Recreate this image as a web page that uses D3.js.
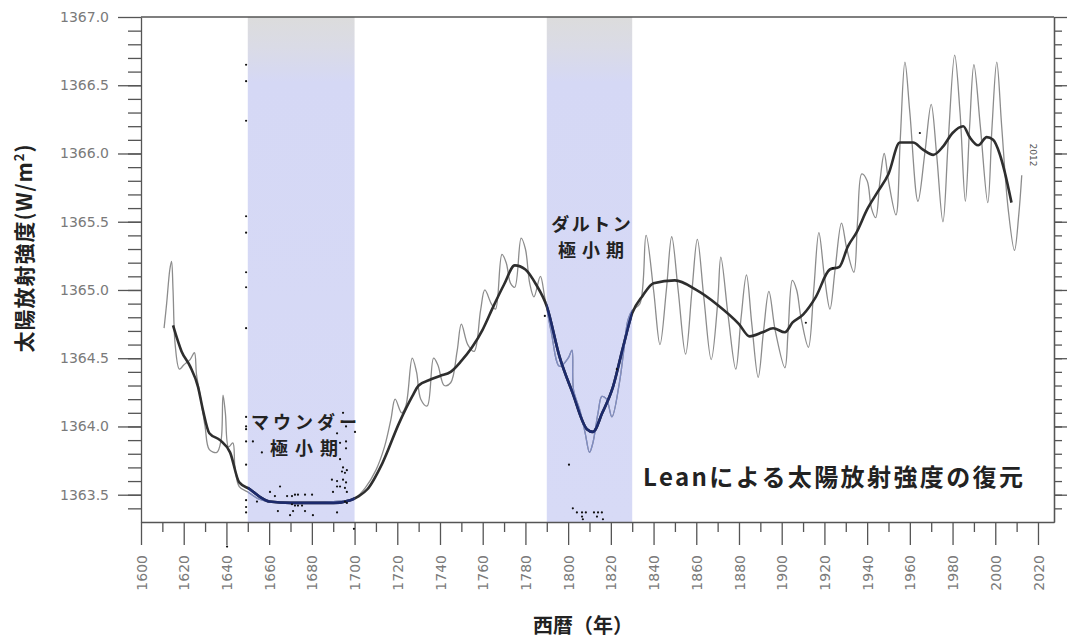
<!DOCTYPE html>
<html lang="ja">
<head>
<meta charset="utf-8">
<title>Leanによる太陽放射強度の復元</title>
<script src="https://cdn.jsdelivr.net/npm/d3@7"></script>
<style>
  body { margin: 0; background: #fff; }
  svg text { font-family: "DejaVu Sans", sans-serif; }
  .jp { font-family: "Noto Sans CJK JP", sans-serif; font-weight: 700; fill: #222; }
  .axis path, .axis line { stroke: #555; stroke-width: 1.3; }
  .axis text { fill: #7a7a7a; font-size: 14px; }
</style>
</head>
<body>
<svg id="chart" width="1071" height="640"></svg>
<script>
// ---- data (year, W/m2) ----
const minima = [
  { name: ["マウンダー", "極小期"], from: 1650, to: 1700 },
  { name: ["ダルトン", "極小期"], from: 1790, to: 1830 }
];

// annual reconstruction (thin grey line)
const annual = [
  [1610.8,1364.72],[1612,1364.9],[1613.5,1365.15],[1614.3,1365.21],[1615,1365.0],[1616,1364.6],
  [1618,1364.42],[1620,1364.45],[1623,1364.49],[1625,1364.54],[1626,1364.38],[1628,1364.2],
  [1630,1364.0],[1632,1363.83],[1635.5,1363.81],[1637.5,1363.9],[1638.4,1364.23],[1639.5,1364.1],
  [1641,1363.85],[1643,1363.88],[1644,1363.7],[1646,1363.56],[1650,1363.52],[1655,1363.47],
  [1660,1363.45],[1670,1363.44],[1680,1363.44],[1690,1363.45],[1698,1363.46],[1700,1363.47],
  [1705,1363.55],[1710,1363.68],[1714,1363.85],[1717,1364.05],[1719,1364.2],[1722,1364.1],
  [1724,1364.15],[1727,1364.5],[1729,1364.4],[1731,1364.2],[1734,1364.15],[1737,1364.5],
  [1739,1364.45],[1742,1364.3],[1745,1364.32],[1748,1364.55],[1750,1364.75],[1753,1364.6],
  [1756,1364.55],[1759,1364.85],[1761,1365.0],[1764,1364.9],[1766,1364.86],[1769,1365.26],
  [1771,1365.2],[1773,1365.05],[1775,1365.02],[1778,1365.38],[1780,1365.3],[1782,1365.05],
  [1784,1364.95],[1787,1365.1],[1789,1364.95],[1792,1364.7],[1796,1364.44],[1800,1364.5],
  [1801.8,1364.56],[1802.5,1364.27],[1805.5,1364.12],[1808,1363.95],[1810,1363.81],[1811.6,1363.88],
  [1814,1364.1],[1815.8,1364.22],[1818,1364.2],[1820.5,1364.07],[1824,1364.32],[1826,1364.55],
  [1828,1364.78],[1830,1364.85],[1833.6,1364.9],[1836.5,1365.4],[1840,1365.0],[1843,1364.6],
  [1846,1365.0],[1848.5,1365.39],[1851.5,1365.0],[1855,1364.53],[1858,1365.0],[1860.5,1365.37],
  [1863.5,1364.95],[1867,1364.49],[1870,1364.9],[1871.5,1365.24],[1875,1364.8],[1878.5,1364.42],
  [1881,1364.8],[1883.5,1365.11],[1886,1364.75],[1889,1364.36],[1891.5,1364.7],[1894,1364.99],
  [1897,1364.7],[1901.5,1364.43],[1903,1364.7],[1905,1365.07],[1907,1365.0],[1909,1364.8],
  [1912.5,1364.58],[1915,1365.0],[1917.4,1365.42],[1920,1365.1],[1922.6,1364.86],[1925,1365.15],
  [1928,1365.49],[1930.5,1365.3],[1933.8,1365.13],[1935.5,1365.5],[1937.5,1365.85],[1940,1365.8],
  [1942,1365.6],[1944,1365.53],[1946,1365.8],[1948,1366.0],[1950,1365.8],[1953.5,1365.55],
  [1955.5,1366.1],[1957.7,1366.67],[1960,1366.3],[1963.8,1365.65],[1967,1366.0],[1970,1366.36],
  [1972.5,1366.0],[1975.5,1365.5],[1978,1366.1],[1981,1366.72],[1983.5,1366.3],[1986,1365.65],
  [1988,1366.2],[1990,1366.65],[1993,1366.2],[1996.5,1365.64],[1998.5,1366.2],[2000.7,1366.67],
  [2003,1366.2],[2006,1365.6],[2009,1365.29],[2011,1365.55],[2012.4,1365.84]
];

// smoothed curve (thick dark line)
const smoothed = [
  [1615,1364.74],[1619,1364.55],[1623,1364.44],[1626.7,1364.29],[1629,1364.12],[1632,1363.95],
  [1637,1363.9],[1641.7,1363.81],[1646,1363.59],[1651,1363.54],[1656,1363.48],[1660,1363.45],
  [1670,1363.44],[1680,1363.44],[1690,1363.44],[1698,1363.46],[1702,1363.49],[1706,1363.54],
  [1713,1363.73],[1721,1364.03],[1727,1364.22],[1730,1364.3],[1735,1364.34],[1740,1364.37],
  [1745,1364.4],[1750,1364.48],[1755,1364.58],[1760,1364.71],[1765,1364.88],[1770,1365.04],
  [1775,1365.18],[1780,1365.15],[1785,1365.04],[1790,1364.88],[1796,1364.51],[1802,1364.25],
  [1808.8,1363.98],[1811.6,1363.96],[1816,1364.1],[1821,1364.29],[1825.7,1364.58],[1830,1364.83],
  [1835,1364.96],[1840,1365.05],[1850,1365.07],[1860,1365.0],[1870,1364.89],[1880,1364.75],
  [1885,1364.66],[1891,1364.69],[1896,1364.72],[1901.5,1364.69],[1905,1364.76],[1910,1364.82],
  [1916,1364.95],[1922.5,1365.15],[1927,1365.17],[1931,1365.32],[1935,1365.42],[1940,1365.59],
  [1945,1365.72],[1950,1365.85],[1955.3,1366.08],[1961.5,1366.08],[1966,1366.03],[1971,1365.99],
  [1975.5,1366.05],[1980,1366.15],[1985,1366.2],[1988,1366.12],[1992,1366.06],[1996,1366.12],
  [1999,1366.1],[2002,1366.0],[2004.5,1365.86],[2007.6,1365.64]
];

// stray black dots
const dots = [
  [1649.2,1366.65],[1649.2,1366.53],[1649.2,1366.24],[1649.2,1365.54],[1649.2,1365.42],
  [1649.2,1365.13],[1649.2,1365.02],[1649.2,1364.72],[1649.2,1364.07],[1649.2,1364.0],
  [1649.2,1363.98],[1649.2,1363.89],[1649.2,1363.72],[1649.2,1363.46],[1649.2,1363.41],
  [1649.2,1363.37],[1652.4,1363.89],[1656.6,1363.81],[1654.3,1363.45],[1660.4,1363.52],
  [1662.7,1363.49],[1665.1,1363.56],[1664.1,1363.38],[1668.4,1363.49],[1670.7,1363.49],
  [1672.1,1363.5],[1673.5,1363.5],[1676.8,1363.5],[1680.1,1363.5],[1670.7,1363.43],
  [1672.1,1363.42],[1673.5,1363.42],[1675.4,1363.42],[1671.2,1363.38],[1669.8,1363.35],
  [1676.8,1363.38],[1680.5,1363.35],[1691.8,1363.37],[1694.6,1364.1],[1696.0,1364.0],
  [1700.2,1363.96],[1691.8,1363.95],[1696,1363.89],[1693.2,1363.88],[1696,1363.84],
  [1693.2,1363.76],[1694.6,1363.7],[1696.4,1363.68],[1694.1,1363.67],[1695.5,1363.66],
  [1689.4,1363.61],[1691.8,1363.6],[1694.6,1363.61],[1696,1363.59],[1693.2,1363.56],
  [1695.5,1363.55],[1696.4,1363.52],[1691.8,1363.56],[1689.9,1363.52],[1695.5,1363.45],
  [1696.4,1363.44],[1640.3,1363.12],[1699.7,1363.25],
  [1789.1,1364.81],[1822.8,1364.42],[1800.4,1363.72],[1802.2,1363.4],[1804.1,1363.37],
  [1806.5,1363.37],[1808.3,1363.37],[1806.5,1363.34],[1806.9,1363.32],[1812.1,1363.37],
  [1814,1363.37],[1815.8,1363.37],[1813.5,1363.34],[1816.3,1363.32],
  [1911.3,1364.76],[1924,1365.16],[1964.7,1366.15]
];

const majorYears = d3.range(1600, 2021, 20);
const minorYears = d3.range(1610, 2021, 20);
const majorIrr = d3.range(1363.5, 1367.01, 0.5);
const minorIrr = d3.range(1363.4, 1367.0, 0.1);

const svg = d3.select("#chart");
const L = 141, T = 17, R = 1054, B = 522;

const x = d3.scaleLinear().domain([1600, 2027.5]).range([L, R]);
const y = d3.scaleLinear().domain([1363.3, 1367.0]).range([B, T]);

// shading: grey at the very top fading into lavender
const defs = svg.append("defs");
const grad = defs.append("linearGradient").attr("id", "shade")
  .attr("x1", 0).attr("y1", 0).attr("x2", 0).attr("y2", 1);
grad.append("stop").attr("offset", "0%").attr("stop-color", "#dcdcdc");
grad.append("stop").attr("offset", "6%").attr("stop-color", "#dadbe6");
grad.append("stop").attr("offset", "13%").attr("stop-color", "#d5d8f5");
grad.append("stop").attr("offset", "100%").attr("stop-color", "#d7daf6");

defs.append("clipPath").attr("id", "minClip")
  .selectAll("rect").data(minima).join("rect")
  .attr("x", d => x(d.from)).attr("width", d => x(d.to) - x(d.from))
  .attr("y", T).attr("height", B - T);

svg.append("g").selectAll("rect").data(minima).join("rect")
  .attr("x", d => x(d.from)).attr("width", d => x(d.to) - x(d.from))
  .attr("y", T).attr("height", B - T)
  .attr("fill", "url(#shade)");

// axes
svg.append("g").attr("class", "axis").attr("transform", `translate(0,${B})`)
  .call(d3.axisBottom(x).tickValues(minorYears).tickSize(10).tickFormat(""))
  .call(g => g.select(".domain").remove());
const xAx = svg.append("g").attr("class", "axis").attr("transform", `translate(0,${B})`)
  .call(d3.axisBottom(x).tickValues(majorYears).tickSize(23).tickSizeOuter(0).tickFormat(d3.format("d")));
xAx.selectAll("text")
  .attr("transform", "rotate(-90)")
  .attr("x", -33).attr("y", 0).attr("dy", "0.36em")
  .attr("text-anchor", "end");

svg.append("g").attr("class", "axis").attr("transform", `translate(${L},0)`)
  .call(d3.axisLeft(y).tickValues(minorIrr).tickSize(13).tickFormat(""))
  .call(g => g.select(".domain").remove());
svg.append("g").attr("class", "axis").attr("transform", `translate(${L},0)`)
  .call(d3.axisLeft(y).tickValues(majorIrr).tickSize(23).tickSizeOuter(0).tickPadding(9)
    .tickFormat(d3.format(".1f")));

svg.append("g").attr("class", "axis").attr("transform", `translate(${R},0)`)
  .call(d3.axisRight(y).tickValues(minorIrr).tickSize(8).tickSizeOuter(0).tickFormat(""));
svg.append("g").attr("class", "axis").attr("transform", `translate(${R},0)`)
  .call(d3.axisRight(y).tickValues(majorIrr).tickSize(13).tickSizeOuter(0).tickFormat(""));

svg.append("line").attr("x1", L).attr("x2", R).attr("y1", T).attr("y2", T)
  .attr("stroke", "#555").attr("stroke-width", 1.3);

// lines
function drawLines(g, thinColor, thickColor) {
  g.append("path").datum(annual)
    .attr("d", d3.line().x(d => x(d[0])).y(d => y(d[1])).curve(d3.curveCatmullRom.alpha(0.5)))
    .attr("fill", "none").attr("stroke", thinColor).attr("stroke-width", 1.3);
  g.append("path").datum(smoothed)
    .attr("d", d3.line().x(d => x(d[0])).y(d => y(d[1])).curve(d3.curveMonotoneX))
    .attr("fill", "none").attr("stroke", thickColor).attr("stroke-width", 2.6)
    .attr("stroke-linejoin", "round");
}
drawLines(svg.append("g"), "#8c8c8c", "#2e2e2e");
drawLines(svg.append("g").attr("clip-path", "url(#minClip)"), "#7f8cc4", "#1c2a6c");

svg.append("g").selectAll("circle").data(dots).join("circle")
  .attr("cx", d => x(d[0])).attr("cy", d => y(d[1])).attr("r", 1.1)
  .attr("fill", "#111");

// annotations, two lines each
function label(cx, y1, lines, sp1, sp2) {
  svg.append("text").attr("class", "jp").attr("text-anchor", "middle")
    .attr("x", cx + sp1 / 2).attr("y", y1).attr("font-size", 18)
    .attr("letter-spacing", sp1).text(lines[0]);
  svg.append("text").attr("class", "jp").attr("text-anchor", "middle")
    .attr("x", cx + sp2 / 2).attr("y", y1 + 26).attr("font-size", 18)
    .attr("letter-spacing", sp2).text(lines[1]);
}
label(304, 429, minima[0].name, 4, 7);
label(591, 231, minima[1].name, 2.5, 6);

svg.append("text").attr("class", "jp").attr("x", 643).attr("y", 486)
  .attr("font-size", 24).attr("textLength", 380).attr("lengthAdjust", "spacing")
  .text("Leanによる太陽放射強度の復元");

svg.append("text").attr("transform", `translate(1033,155) rotate(90)`)
  .attr("text-anchor", "middle").attr("dy", "0.35em")
  .attr("font-size", 9).attr("fill", "#555").text("2012");

// axis titles
svg.append("text").attr("class", "jp")
  .attr("transform", "translate(25,248) rotate(-90)")
  .attr("text-anchor", "middle").attr("dy", "0.35em").attr("font-size", 21)
  .attr("letter-spacing", 1)
  .html("太陽放射強度(W/m<tspan dy='-8' font-size='13'>2</tspan><tspan dy='8'>)</tspan>");
svg.append("text").attr("class", "jp").attr("x", 583).attr("y", 633)
  .attr("text-anchor", "middle").attr("font-size", 20)
  .text("西暦（年）");
</script>
</body>
</html>
